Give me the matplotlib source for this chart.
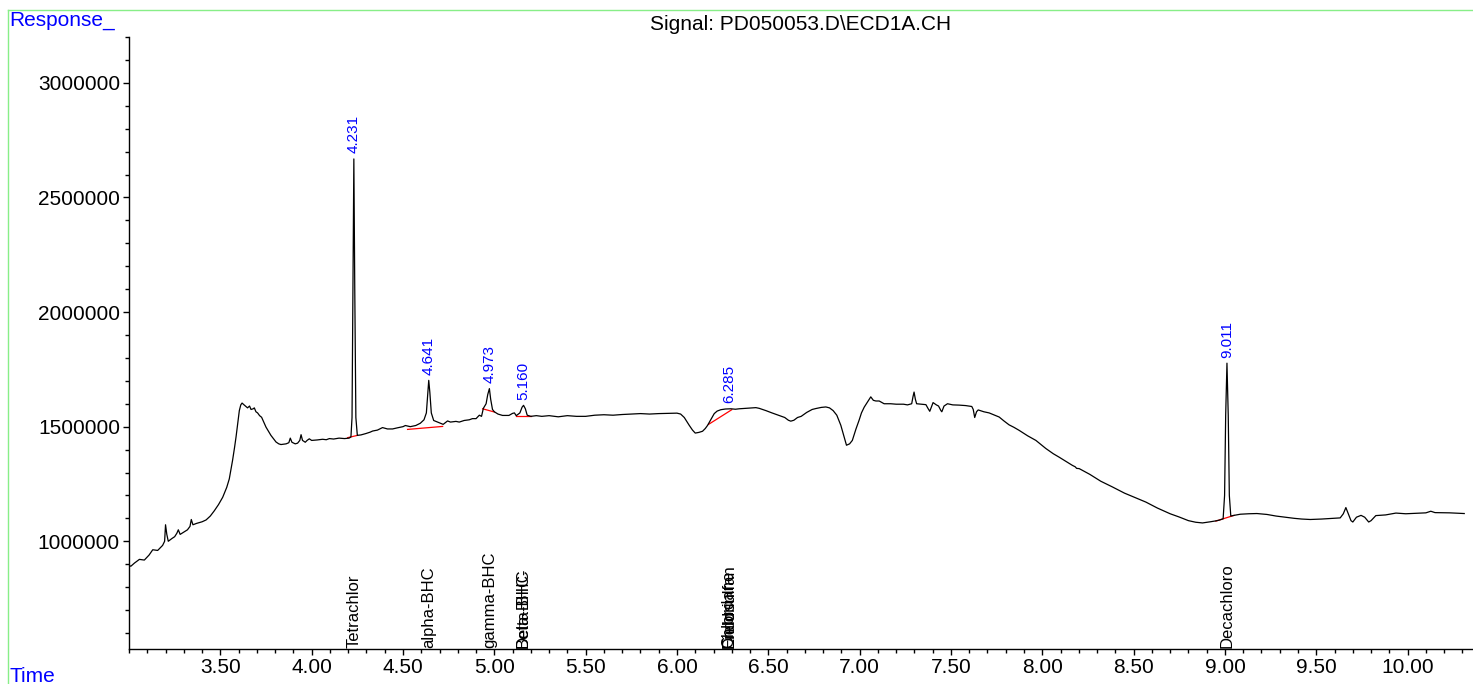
import matplotlib
matplotlib.use("Agg")
import matplotlib.pyplot as plt
import matplotlib.ticker as mtick
from matplotlib.lines import Line2D
import numpy as np

# Chromatogram trace (time in min, response)
trace_time = [
    3.000, 3.010, 3.030, 3.057, 3.084, 3.110, 3.130, 3.157, 3.184, 3.195,
    3.200, 3.207, 3.215, 3.235, 3.250, 3.262, 3.270, 3.280, 3.300, 3.320,
    3.334, 3.341, 3.350, 3.370, 3.400, 3.422, 3.445, 3.467, 3.490, 3.513,
    3.535, 3.549, 3.560, 3.567, 3.578, 3.586, 3.596, 3.604, 3.612, 3.619,
    3.630, 3.649, 3.660, 3.668, 3.680, 3.686, 3.695, 3.704, 3.715, 3.726,
    3.750, 3.777, 3.805, 3.820, 3.832, 3.860, 3.875, 3.883, 3.892, 3.910,
    3.923, 3.935, 3.942, 3.950, 3.965, 3.975, 3.987, 4.000, 4.030, 4.060,
    4.080, 4.097, 4.120, 4.150, 4.180, 4.205, 4.215, 4.221, 4.226, 4.231,
    4.236, 4.242, 4.250, 4.270, 4.297, 4.320, 4.334, 4.360, 4.388, 4.415,
    4.443, 4.470, 4.500, 4.513, 4.540, 4.570, 4.595, 4.615, 4.628, 4.636,
    4.641, 4.647, 4.655, 4.668, 4.690, 4.705, 4.720, 4.744, 4.760, 4.790,
    4.808, 4.835, 4.863, 4.880, 4.900, 4.918, 4.930, 4.940, 4.955, 4.964,
    4.973, 4.980, 4.990, 5.000, 5.020, 5.045, 5.080, 5.100, 5.110, 5.120,
    5.140, 5.152, 5.160, 5.170, 5.180, 5.200, 5.230, 5.260, 5.300, 5.350,
    5.400, 5.450, 5.500, 5.550, 5.600, 5.650, 5.700, 5.750, 5.800, 5.850,
    5.900, 5.950, 6.000, 6.020, 6.040, 6.067, 6.085, 6.100, 6.120, 6.140,
    6.155, 6.167, 6.185, 6.204, 6.220, 6.240, 6.265, 6.295, 6.320, 6.341,
    6.380, 6.410, 6.432, 6.450, 6.487, 6.520, 6.559, 6.590, 6.610, 6.623,
    6.640, 6.660, 6.680, 6.710, 6.740, 6.760, 6.790, 6.815, 6.835, 6.855,
    6.875, 6.897, 6.915, 6.928, 6.945, 6.960, 6.980, 6.997, 7.010, 7.025,
    7.045, 7.061, 7.075, 7.089, 7.107, 7.134, 7.170, 7.200, 7.240, 7.262,
    7.285, 7.292, 7.298, 7.305, 7.312, 7.340, 7.363, 7.374, 7.384, 7.395,
    7.402, 7.420, 7.432, 7.445, 7.450, 7.462, 7.481, 7.510, 7.545, 7.580,
    7.614, 7.622, 7.630, 7.640, 7.649, 7.680, 7.709, 7.740, 7.764, 7.790,
    7.818, 7.845, 7.873, 7.920, 7.965, 8.019, 8.060, 8.092, 8.130, 8.165,
    8.180, 8.188, 8.202, 8.260, 8.320, 8.384, 8.450, 8.510, 8.567, 8.630,
    8.700, 8.749, 8.800, 8.840, 8.877, 8.920, 8.950, 8.968, 8.990, 8.998,
    9.004, 9.011, 9.018, 9.024, 9.032, 9.050, 9.084, 9.130, 9.175, 9.230,
    9.280, 9.321, 9.380, 9.420, 9.467, 9.530, 9.590, 9.631, 9.648, 9.662,
    9.675, 9.690, 9.700, 9.720, 9.745, 9.765, 9.787, 9.800, 9.826, 9.880,
    9.936, 9.990, 10.050, 10.100, 10.127, 10.150, 10.230, 10.310,
]
trace_resp = [
    895000, 891000, 905000, 921000, 918000, 940000, 963000, 960000, 982000, 1000000,
    1072000, 1030000, 1000000, 1012000, 1020000, 1035000, 1050000, 1030000, 1040000, 1050000,
    1065000, 1095000, 1072000, 1078000, 1085000, 1093000, 1110000, 1133000, 1160000, 1192000,
    1235000, 1272000, 1320000, 1353000, 1410000, 1455000, 1520000, 1570000, 1595000, 1603000,
    1595000, 1582000, 1590000, 1575000, 1578000, 1582000, 1565000, 1560000, 1548000, 1541000,
    1498000, 1462000, 1433000, 1425000, 1422000, 1425000, 1430000, 1450000, 1432000, 1425000,
    1428000, 1440000, 1465000, 1440000, 1432000, 1440000, 1447000, 1440000, 1442000, 1445000,
    1443000, 1448000, 1446000, 1450000, 1448000, 1450000, 1455000, 1540000, 2100000, 2668000,
    2100000, 1540000, 1462000, 1464000, 1470000, 1476000, 1481000, 1485000, 1496000, 1490000,
    1490000, 1495000, 1500000, 1505000, 1500000, 1505000, 1515000, 1530000, 1560000, 1650000,
    1702000, 1650000, 1560000, 1527000, 1520000, 1515000, 1510000, 1525000, 1520000, 1523000,
    1520000, 1527000, 1530000, 1535000, 1535000, 1550000, 1545000, 1580000, 1600000, 1640000,
    1666000, 1620000, 1575000, 1565000, 1555000, 1549000, 1549000, 1558000, 1560000, 1548000,
    1560000, 1585000, 1593000, 1578000, 1550000, 1545000, 1548000, 1545000, 1548000, 1543000,
    1548000, 1545000, 1545000, 1550000, 1552000, 1550000, 1553000, 1555000, 1557000, 1555000,
    1557000, 1558000, 1559000, 1555000, 1540000, 1506000, 1485000, 1472000, 1475000, 1480000,
    1492000, 1505000, 1530000, 1557000, 1568000, 1574000, 1577000, 1578000, 1576000, 1578000,
    1580000, 1582000, 1583000, 1580000, 1570000, 1560000, 1549000, 1540000, 1528000, 1524000,
    1528000, 1540000, 1545000, 1562000, 1575000, 1579000, 1584000, 1586000, 1582000, 1570000,
    1550000, 1506000, 1455000, 1419000, 1425000, 1440000, 1490000, 1528000, 1560000, 1585000,
    1610000, 1630000, 1615000, 1612000, 1612000, 1600000, 1600000, 1598000, 1598000, 1595000,
    1600000, 1630000, 1651000, 1620000, 1600000, 1598000, 1596000, 1580000, 1567000, 1590000,
    1605000, 1595000, 1590000, 1570000, 1565000, 1590000, 1600000, 1595000, 1594000, 1592000,
    1588000, 1575000, 1540000, 1565000, 1573000, 1565000, 1560000, 1550000, 1542000, 1525000,
    1508000, 1497000, 1484000, 1460000, 1440000, 1405000, 1382000, 1367000, 1348000, 1331000,
    1325000, 1318000, 1317000, 1292000, 1262000, 1237000, 1210000, 1190000, 1171000, 1145000,
    1120000, 1106000, 1090000, 1083000, 1080000, 1085000, 1089000, 1092000, 1098000, 1200000,
    1550000, 1777000, 1550000, 1200000, 1110000, 1113000, 1118000, 1120000, 1121000, 1117000,
    1110000, 1106000, 1100000, 1097000, 1095000, 1097000, 1100000, 1102000, 1120000, 1147000,
    1120000, 1090000, 1084000, 1105000, 1113000, 1105000, 1084000, 1090000, 1112000, 1115000,
    1123000, 1120000, 1122000, 1124000, 1131000, 1125000, 1124000, 1121000,
]

# Integrated peaks: retention time, apex response, baseline start/end
peak_rt = [4.231, 4.641, 4.973, 5.160, 6.285, 9.011]
peak_apex = [2668000, 1702000, 1666000, 1593000, 1577000, 1777000]
base_t0 = [4.197, 4.525, 4.936, 5.118, 6.173, 8.950]
base_y0 = [1452000, 1488000, 1578000, 1545000, 1510000, 1088000]
base_t1 = [4.251, 4.717, 5.000, 5.200, 6.300, 9.050]
base_y1 = [1462000, 1501000, 1564000, 1545000, 1574000, 1113000]

# Compound names printed along the time axis (some overlap, as in the original)
compound_rt = [4.231, 4.641, 4.973, 5.160, 5.160, 6.285, 6.285, 6.285, 9.011]
compound_names = ["Tetrachlor", "alpha-BHC", "gamma-BHC", "Delta-BHC", "Beta-BHC-",
                  "Endosulfan", "Dieldrin", "Chlordane", "Decachloro"]

x_major = [3.5, 4.0, 4.5, 5.0, 5.5, 6.0, 6.5, 7.0, 7.5, 8.0, 8.5, 9.0, 9.5, 10.0]
y_major = [1000000, 1500000, 2000000, 2500000, 3000000]


def plot_chromatogram(save_path="out.png"):
    plt.rcParams['font.family'] = ['Liberation Sans', 'DejaVu Sans']
    W, H = 1473, 684
    fig = plt.figure(figsize=(W / 100, H / 100), dpi=100)
    ax = fig.add_axes([129 / W, 1 - 649 / H, 1 - 129 / W, (649 - 37) / H])

    # trace
    ax.plot(trace_time, trace_resp, color='black', linewidth=0.9, zorder=3)

    # baselines + RT labels
    for i in range(len(peak_rt)):
        ax.plot([base_t0[i], base_t1[i]], [base_y0[i], base_y1[i]],
                color='#ff0000', linewidth=0.9, zorder=2)
        ax.annotate(f"{peak_rt[i]:.3f}", xy=(peak_rt[i], peak_apex[i]),
                    xytext=(0, 4), textcoords='offset points',
                    rotation=90, ha='center', va='bottom',
                    color='#0000ff', fontsize=11)

    # compound names at the bottom
    trans = ax.get_xaxis_transform()
    for rt, name in zip(compound_rt, compound_names):
        ax.text(rt, 0.002, name, transform=trans, rotation=90,
                ha='center', va='bottom', fontsize=12, color='black')

    ax.set_xlim(3.0, 10.358)
    ax.set_ylim(530000, 3200000)

    ax.set_xticks(x_major)
    ax.xaxis.set_major_formatter(mtick.FormatStrFormatter('%.2f'))
    ax.xaxis.set_minor_locator(mtick.MultipleLocator(0.1))
    ax.set_yticks(y_major)
    ax.yaxis.set_major_formatter(mtick.FormatStrFormatter('%d'))
    ax.yaxis.set_minor_locator(mtick.MultipleLocator(100000))

    ax.tick_params(which='major', direction='out', length=4.5, width=1,
                   labelsize=15, pad=2)
    ax.tick_params(which='minor', direction='out', length=3.2, width=1)

    for side in ['top', 'right']:
        ax.spines[side].set_visible(False)
    for side in ['left', 'bottom']:
        ax.spines[side].set_linewidth(1)
    ax.patch.set_alpha(0)

    # green frame
    fx, fy = 8 / W, 1 - 10 / H
    fig.add_artist(Line2D([fx, 1], [fy, fy], color='#88ee88', linewidth=1))
    fig.add_artist(Line2D([fx, fx], [0, fy], color='#88ee88', linewidth=1))

    fig.text(801 / W, 1 - 25 / H, r"Signal: PD050053.D\ECD1A.CH",
             ha='center', va='center', fontsize=15)
    fig.text(9 / W, 1 - 21 / H, "Response_", ha='left', va='center',
             fontsize=15, color='#0000ff')
    fig.text(9 / W, 1 - 677 / H, "Time", ha='left', va='center',
             fontsize=15, color='#0000ff')

    fig.savefig(save_path, dpi=100)
    plt.close(fig)


plot_chromatogram()
